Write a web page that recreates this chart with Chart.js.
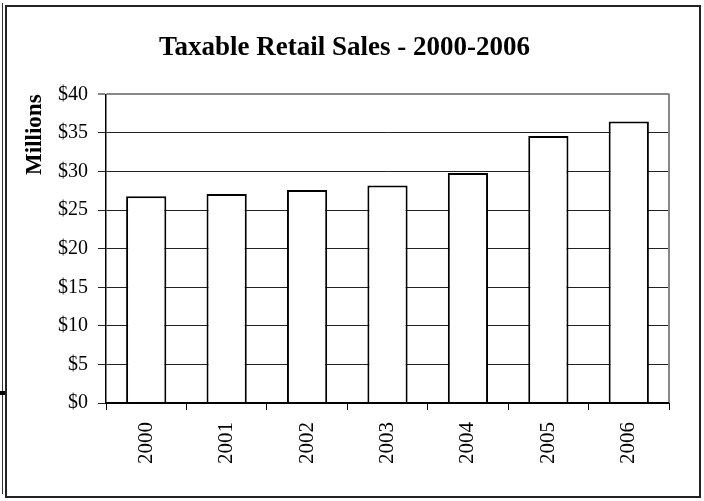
<!DOCTYPE html>
<html>
<head>
<meta charset="utf-8">
<title>Taxable Retail Sales - 2000-2006</title>
<script src="https://cdn.jsdelivr.net/npm/chart.js@4.4.1/dist/chart.umd.min.js"></script>
<style>
    html, body { margin: 0; padding: 0; background: #fff; }
    .wrap { position: relative; width: 704px; height: 501px; }
    .frame { position: absolute; left: 5px; top: 5px; width: 692px; height: 489px;
             border: 2px solid #222; pointer-events: none; }
    .edge { position: absolute; left: 2px; top: 3px; width: 1px; height: 491px;
            background: #333; pointer-events: none; }
    .mark { position: absolute; left: 0; top: 391px; width: 6px; height: 4px;
            background: #000; pointer-events: none; }
    canvas { position: absolute; left: 0; top: 0; }
</style>
</head>
<body>
<div class="wrap">
    <canvas id="salesChart" width="704" height="501"></canvas>
    <div class="edge"></div>
    <div class="mark"></div>
    <div class="frame"></div>
</div>
<script>
// Chart data
const years = ['2000', '2001', '2002', '2003', '2004', '2005', '2006'];
const sales = [26.8, 27.1, 27.6, 28.2, 29.8, 34.6, 36.5];
const yTicks = [0, 5, 10, 15, 20, 25, 30, 35, 40];

const serif = '"Liberation Serif", "Times New Roman", serif';

// gray border on the right side of the plot
const plotBorder = {
    id: 'plotBorder',
    afterDatasetsDraw(chart) {
        const { ctx, chartArea } = chart;
        ctx.save();
        ctx.strokeStyle = '#888';
        ctx.lineWidth = 2;
        ctx.beginPath();
        ctx.moveTo(chartArea.right, chartArea.top - 1);
        ctx.lineTo(chartArea.right, chartArea.bottom);
        ctx.stroke();
        // axis line on top of the bars
        ctx.strokeStyle = '#000';
        ctx.beginPath();
        ctx.moveTo(chartArea.left, chartArea.bottom);
        ctx.lineTo(chartArea.right, chartArea.bottom);
        ctx.stroke();
        ctx.restore();
    }
};

document.addEventListener('DOMContentLoaded', function() {
    const ctx = document.getElementById('salesChart').getContext('2d');
    new Chart(ctx, {
        type: 'bar',
        data: {
            labels: years,
            datasets: [{
                label: 'Taxable Retail Sales',
                data: sales,
                backgroundColor: '#fff',
                borderColor: '#000',
                borderWidth: 2,
                borderSkipped: 'start',
                barPercentage: 0.5,
                categoryPercentage: 1.0
            }]
        },
        options: {
            responsive: false,
            animation: false,
            layout: { padding: { left: 20, right: 35, top: 0, bottom: 10 } },
            plugins: {
                legend: { display: false },
                tooltip: { enabled: false },
                title: {
                    display: true,
                    text: 'Taxable Retail Sales - 2000-2006',
                    color: '#000',
                    font: { family: serif, size: 27, weight: 'bold' },
                    padding: { top: 32, bottom: 30 }
                }
            },
            scales: {
                x: {
                    offset: true,
                    grid: {
                        offset: true,
                        drawOnChartArea: false,
                        drawTicks: true,
                        tickLength: 7,
                        color: '#000'
                    },
                    border: { display: true, color: '#000', width: 2 },
                    ticks: {
                        color: '#000',
                        font: { family: serif, size: 21 },
                        minRotation: 90,
                        maxRotation: 90,
                        padding: 12
                    },
                    afterFit(scale) { scale.height = 88; }
                },
                y: {
                    min: 0,
                    max: 40,
                    afterBuildTicks(scale) {
                        scale.ticks = yTicks.map(v => ({ value: v }));
                    },
                    grid: {
                        color: ctx => ctx.tick && ctx.tick.value === 40 ? '#888' : '#222',
                        lineWidth: ctx => ctx.tick && ctx.tick.value === 40 ? 2 : 1,
                        tickLength: 8
                    },
                    border: { display: true, color: '#000', width: 1.5 },
                    ticks: {
                        color: '#000',
                        font: { family: serif, size: 20 },
                        padding: 10,
                        callback: v => '$' + v
                    },
                    title: {
                        display: true,
                        text: 'Millions',
                        align: 'end',
                        color: '#000',
                        font: { family: serif, size: 23, weight: 'bold' },
                        padding: { top: 1, bottom: 0 }
                    },
                    afterFit(scale) { scale.width = 86; }
                }
            }
        },
        plugins: [plotBorder]
    });
});
</script>
</body>
</html>
